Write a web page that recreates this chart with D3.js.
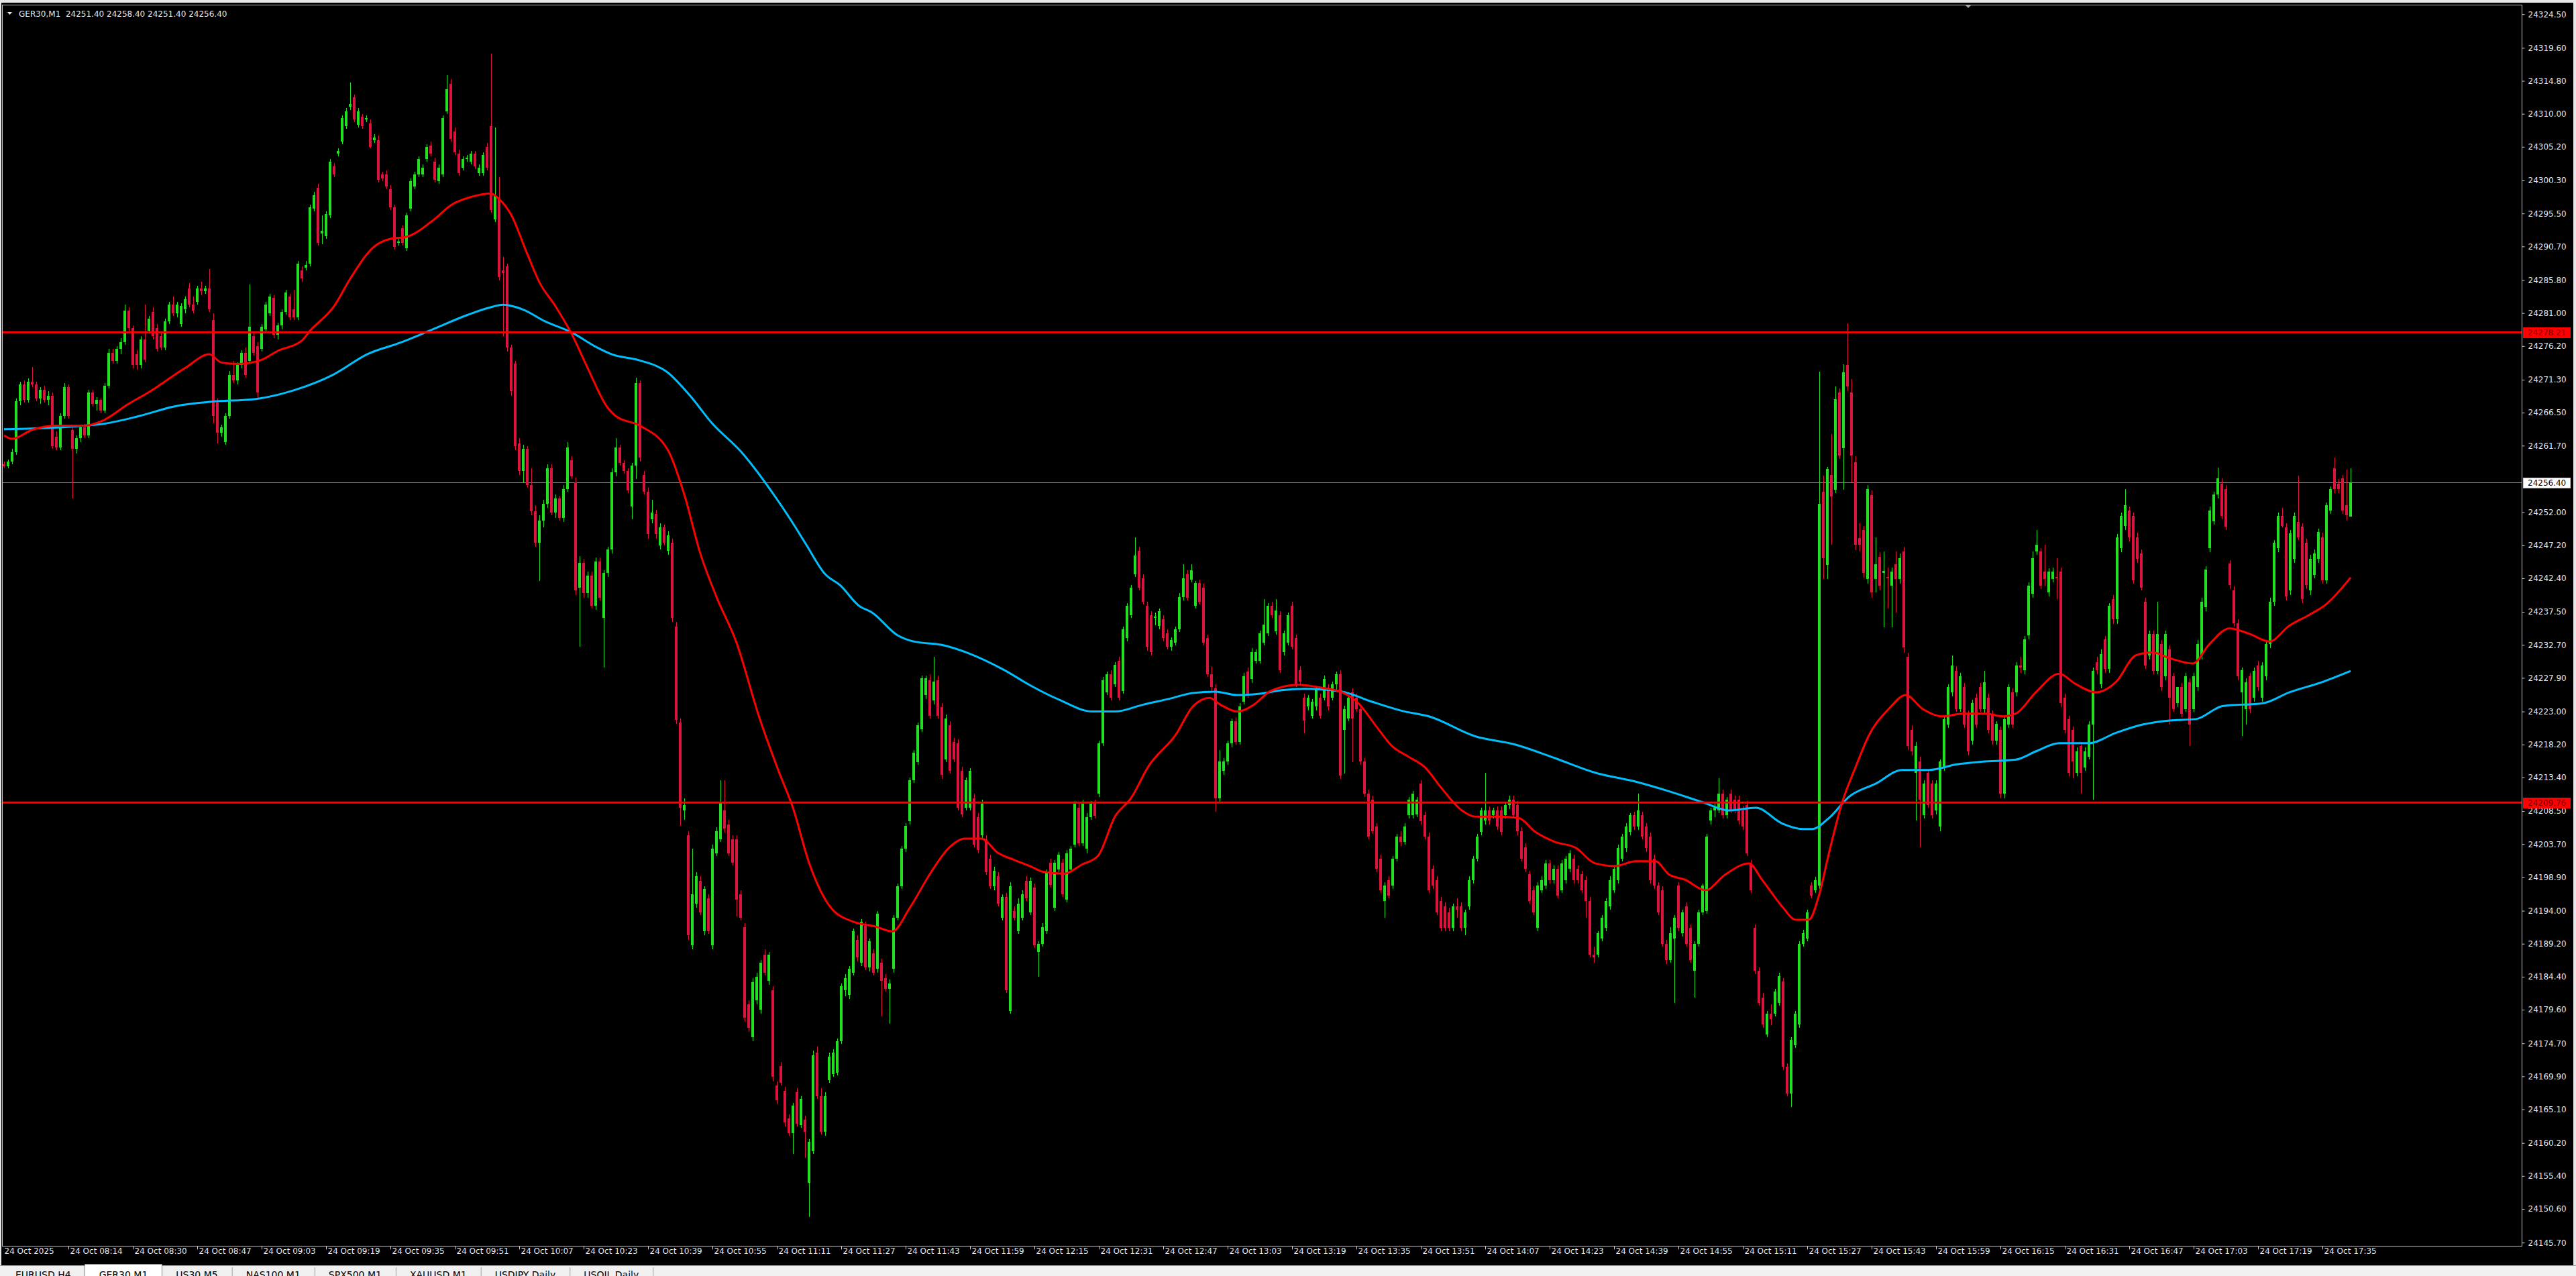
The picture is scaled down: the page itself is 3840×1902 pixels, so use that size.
<!DOCTYPE html>
<html><head><meta charset="utf-8">
<script src="https://cdn.jsdelivr.net/npm/d3@7"></script>
<style>
html,body{margin:0;padding:0;background:#000;overflow:hidden}
svg{display:block}
</style></head><body>
<svg id="c" width="3840" height="1902"></svg>
<script>
const headerText = "GER30,M1  24251.40 24258.40 24251.40 24256.40";
const priceTicks = [24324.50,24319.60,24314.80,24310.00,24305.20,24300.30,24295.50,24290.70,24285.80,24281.00,24276.20,24271.30,24266.50,24261.70,24252.00,24247.20,24242.40,24237.50,24232.70,24227.90,24223.00,24218.20,24213.40,24208.50,24203.70,24198.90,24194.00,24189.20,24184.40,24179.60,24174.70,24169.90,24165.10,24160.20,24155.40,24150.60,24145.70];
const timeTickIdx = [0.67,17,33,49,65,81,97,113,129,145,161,177,193,209,225,241,257,273,289,305,321,337,353,369,385,401,417,433,449,465,481,497,513,529,545,561,577];
const timeLabels = ["24 Oct 2025","24 Oct 08:14","24 Oct 08:30","24 Oct 08:47","24 Oct 09:03","24 Oct 09:19","24 Oct 09:35","24 Oct 09:51","24 Oct 10:07","24 Oct 10:23","24 Oct 10:39","24 Oct 10:55","24 Oct 11:11","24 Oct 11:27","24 Oct 11:43","24 Oct 11:59","24 Oct 12:15","24 Oct 12:31","24 Oct 12:47","24 Oct 13:03","24 Oct 13:19","24 Oct 13:35","24 Oct 13:51","24 Oct 14:07","24 Oct 14:23","24 Oct 14:39","24 Oct 14:55","24 Oct 15:11","24 Oct 15:27","24 Oct 15:43","24 Oct 15:59","24 Oct 16:15","24 Oct 16:31","24 Oct 16:47","24 Oct 17:03","24 Oct 17:19","24 Oct 17:35"];
// one-minute candles [open, high, low, close], bar 1 .. bar 584
const candles = [
[24259.0,24259.4,24258.5,24258.7],[24258.7,24259.7,24258.4,24259.4],[24259.4,24261.2,24259.0,24260.8],[24260.8,24268.6,24260.4,24268.2],[24268.2,24271.0,24267.6,24270.6],[24270.6,24271.2,24268.0,24268.4],[24268.4,24271.5,24268.0,24271.0],[24271.0,24273.2,24270.2,24270.6],[24270.6,24271.0,24268.2,24268.6],[24268.6,24270.2,24267.8,24269.8],
[24269.8,24270.4,24268.0,24268.4],[24268.4,24269.6,24267.6,24269.0],[24269.0,24269.4,24261.2,24261.6],[24263.0,24263.8,24261.0,24261.4],[24261.4,24266.4,24261.0,24266.0],[24266.0,24270.8,24265.6,24270.2],[24270.2,24270.6,24265.6,24266.0],[24264.0,24264.6,24254.0,24261.2],[24261.2,24263.2,24260.6,24262.8],[24262.8,24264.8,24262.2,24264.4],
[24264.4,24264.9,24262.8,24263.2],[24263.2,24269.8,24262.8,24269.4],[24269.4,24269.8,24267.4,24267.8],[24267.8,24268.8,24266.8,24268.4],[24268.4,24268.6,24266.4,24266.8],[24266.8,24270.8,24266.4,24270.4],[24270.4,24275.8,24270.0,24275.2],[24275.2,24275.8,24273.6,24274.0],[24274.0,24276.2,24273.6,24275.8],[24275.8,24277.4,24275.0,24276.8],
[24276.8,24282.2,24276.4,24281.4],[24281.4,24281.8,24278.4,24278.8],[24278.8,24279.2,24273.0,24273.4],[24275.0,24275.6,24272.8,24273.4],[24273.4,24277.6,24273.0,24277.2],[24277.2,24282.2,24273.8,24274.2],[24278.4,24280.6,24278.0,24280.2],[24281.2,24281.8,24277.2,24277.6],[24278.8,24279.4,24275.4,24275.8],[24277.6,24278.2,24275.6,24276.0],
[24276.0,24280.2,24275.6,24279.8],[24279.8,24282.6,24279.4,24282.2],[24282.2,24283.4,24280.6,24281.0],[24281.0,24282.6,24280.4,24282.2],[24279.4,24282.4,24279.0,24282.0],[24281.6,24283.4,24281.0,24283.0],[24284.6,24285.4,24281.8,24282.2],[24282.2,24283.4,24281.0,24281.4],[24282.6,24285.0,24282.2,24284.6],[24284.6,24285.6,24283.6,24284.2],
[24284.2,24285.0,24283.8,24284.6],[24284.6,24287.4,24281.2,24281.6],[24280.0,24281.0,24265.0,24266.0],[24268.0,24268.6,24262.0,24263.6],[24263.6,24264.8,24263.0,24264.4],[24262.2,24266.4,24261.8,24266.0],[24266.0,24272.6,24265.6,24272.0],[24272.0,24274.0,24270.8,24271.2],[24271.2,24273.8,24270.6,24273.4],[24273.4,24275.6,24273.0,24275.2],
[24275.2,24276.0,24271.6,24272.0],[24274.0,24285.2,24273.6,24279.0],[24277.6,24278.2,24274.8,24275.2],[24276.2,24276.8,24268.6,24269.4],[24275.8,24279.4,24275.4,24279.0],[24278.6,24282.6,24278.2,24282.2],[24281.0,24283.8,24280.6,24283.4],[24283.2,24283.6,24277.4,24277.8],[24277.8,24279.6,24277.2,24279.2],[24279.2,24281.6,24278.6,24281.2],
[24281.2,24284.4,24280.8,24284.0],[24283.4,24283.8,24280.0,24280.4],[24281.6,24284.4,24280.0,24280.4],[24280.4,24288.6,24280.0,24288.2],[24287.2,24287.8,24285.6,24286.0],[24287.6,24288.6,24287.2,24288.0],[24288.2,24296.8,24287.8,24296.4],[24296.2,24298.6,24295.8,24298.2],[24299.2,24299.8,24290.8,24291.2],[24292.6,24295.2,24291.0,24293.0],
[24292.2,24295.8,24291.8,24295.4],[24295.2,24303.4,24294.8,24303.0],[24302.4,24302.8,24300.8,24301.2],[24304.2,24305.0,24303.8,24304.6],[24306.0,24309.8,24305.6,24309.4],[24308.2,24310.8,24307.8,24310.4],[24311.0,24314.6,24310.6,24311.4],[24312.4,24312.8,24308.8,24309.2],[24308.4,24310.8,24308.0,24310.4],[24309.6,24310.0,24307.8,24308.2],
[24309.2,24309.8,24308.8,24309.4],[24308.6,24309.2,24305.0,24305.2],[24306.2,24307.0,24305.8,24306.6],[24306.2,24306.8,24300.0,24300.4],[24301.2,24301.6,24300.2,24300.6],[24301.2,24301.8,24299.0,24299.4],[24299.0,24299.6,24296.0,24296.4],[24296.4,24296.8,24290.2,24290.6],[24291.2,24292.0,24290.8,24291.4],[24293.4,24293.8,24290.8,24291.2],
[24290.4,24295.6,24290.0,24295.2],[24296.2,24300.6,24295.8,24300.2],[24299.4,24301.6,24299.0,24301.2],[24301.2,24303.8,24300.8,24303.4],[24301.2,24302.6,24300.8,24302.2],[24303.4,24305.6,24303.0,24305.2],[24305.4,24306.0,24303.8,24304.2],[24303.0,24303.6,24300.0,24300.4],[24300.2,24302.6,24299.8,24302.2],[24301.2,24309.8,24300.8,24309.4],
[24310.4,24315.6,24310.0,24313.6],[24314.4,24315.0,24306.0,24306.4],[24307.4,24308.0,24304.0,24304.4],[24304.2,24304.8,24301.0,24301.4],[24302.2,24303.8,24301.8,24303.4],[24303.4,24304.0,24303.0,24303.6],[24303.0,24304.6,24302.6,24304.2],[24304.2,24304.6,24302.0,24302.4],[24301.4,24302.6,24301.0,24302.2],[24301.4,24304.4,24301.0,24304.0],
[24305.2,24305.8,24301.8,24302.2],[24308.2,24318.8,24295.6,24296.0],[24294.6,24308.0,24294.2,24298.2],[24297.6,24300.8,24285.8,24286.2],[24287.2,24289.2,24277.6,24286.8],[24287.8,24288.2,24275.4,24276.0],[24276.0,24276.4,24269.0,24269.6],[24273.6,24274.0,24261.0,24261.6],[24262.0,24262.8,24257.4,24258.0],[24258.0,24261.8,24256.4,24261.2],
[24261.2,24261.6,24255.6,24256.0],[24256.0,24258.4,24251.6,24252.2],[24252.2,24253.0,24247.0,24247.6],[24247.6,24251.6,24242.0,24250.8],[24250.8,24253.8,24249.8,24253.2],[24253.2,24259.0,24252.6,24258.4],[24258.4,24259.0,24251.6,24252.0],[24252.0,24254.6,24251.2,24254.0],[24254.0,24254.4,24250.8,24251.2],[24251.2,24256.0,24250.6,24255.4],
[24255.4,24262.2,24255.0,24261.4],[24259.6,24260.2,24256.8,24257.2],[24256.4,24257.0,24240.0,24240.6],[24241.0,24245.6,24232.4,24244.6],[24244.6,24245.2,24239.6,24240.2],[24240.2,24243.4,24239.6,24242.8],[24242.8,24243.4,24238.0,24238.4],[24238.4,24245.4,24237.8,24244.8],[24244.8,24245.4,24239.2,24239.6],[24236.6,24243.6,24229.4,24243.2],
[24243.2,24247.0,24242.6,24246.6],[24246.6,24258.4,24246.0,24257.8],[24257.8,24262.8,24257.2,24261.4],[24261.4,24261.8,24258.8,24259.2],[24259.2,24259.6,24257.6,24258.0],[24258.0,24258.4,24254.8,24255.2],[24252.8,24259.2,24251.0,24258.8],[24258.8,24271.6,24256.8,24270.8],[24270.8,24271.2,24259.4,24260.0],[24257.4,24258.0,24254.6,24255.0],
[24255.0,24255.6,24248.2,24248.8],[24251.0,24253.8,24250.4,24252.0],[24251.8,24252.4,24248.2,24248.8],[24247.2,24250.4,24246.6,24249.8],[24249.8,24250.2,24247.2,24247.6],[24246.4,24249.2,24245.8,24248.6],[24247.6,24248.2,24236.0,24236.6],[24235.4,24236.0,24221.2,24221.8],[24221.4,24222.0,24206.4,24209.0],[24208.6,24210.4,24207.2,24209.4],
[24205.0,24205.6,24189.8,24190.4],[24189.0,24203.0,24188.4,24196.4],[24195.0,24199.6,24194.4,24199.0],[24198.4,24199.0,24193.4,24193.8],[24191.0,24197.6,24190.4,24197.2],[24195.8,24196.4,24190.6,24191.0],[24189.0,24203.6,24188.4,24203.0],[24202.4,24206.2,24202.0,24205.6],[24204.4,24213.0,24204.0,24209.8],[24208.6,24213.0,24205.4,24206.0],
[24206.6,24207.2,24202.0,24202.4],[24204.4,24205.0,24200.6,24201.0],[24204.4,24205.0,24193.2,24195.6],[24196.4,24197.0,24192.6,24193.0],[24191.6,24192.2,24177.8,24178.4],[24180.4,24181.0,24176.4,24177.0],[24175.6,24184.2,24175.0,24183.6],[24181.0,24185.0,24180.4,24184.4],[24179.6,24186.8,24179.0,24186.4],[24187.6,24188.4,24184.6,24185.0],
[24183.8,24188.0,24183.2,24187.6],[24182.4,24183.0,24169.2,24169.8],[24168.6,24169.2,24165.8,24166.4],[24171.4,24172.0,24168.6,24169.0],[24167.8,24168.4,24162.6,24163.2],[24163.8,24164.4,24161.2,24161.6],[24161.6,24166.0,24158.6,24165.6],[24167.6,24168.2,24162.6,24163.0],[24162.8,24167.0,24162.4,24166.6],[24163.6,24164.2,24158.0,24161.8],
[24154.4,24160.8,24149.4,24160.4],[24159.0,24173.6,24158.6,24173.0],[24173.4,24174.2,24166.6,24167.0],[24167.0,24168.2,24161.4,24161.8],[24161.8,24167.6,24161.2,24167.0],[24169.4,24173.4,24169.0,24172.8],[24170.2,24173.8,24169.8,24173.4],[24170.4,24175.4,24170.0,24175.0],[24175.0,24183.4,24174.6,24183.0],[24182.4,24184.8,24181.6,24184.2],
[24181.8,24186.0,24181.2,24185.6],[24185.0,24191.4,24184.6,24191.0],[24189.8,24190.4,24186.6,24187.2],[24186.4,24192.8,24186.0,24192.4],[24191.8,24192.4,24185.4,24185.8],[24185.8,24190.0,24185.2,24189.6],[24187.8,24188.4,24184.6,24185.0],[24185.6,24194.0,24185.0,24193.6],[24186.4,24187.0,24178.6,24183.8],[24184.2,24184.8,24182.2,24182.6],
[24182.6,24184.0,24177.6,24183.4],[24185.6,24193.4,24185.0,24193.0],[24193.0,24198.0,24192.6,24197.6],[24197.6,24203.4,24197.2,24203.0],[24203.0,24206.8,24202.6,24206.4],[24207.0,24213.4,24206.6,24213.0],[24213.0,24217.4,24212.6,24217.0],[24215.6,24221.4,24215.2,24221.0],[24220.4,24228.2,24220.0,24227.8],[24225.4,24228.2,24224.8,24227.8],
[24227.6,24228.4,24222.0,24222.4],[24224.6,24231.0,24224.0,24227.4],[24227.6,24228.2,24222.0,24222.4],[24223.6,24224.2,24213.2,24213.8],[24216.0,24222.6,24215.6,24222.0],[24221.0,24221.6,24214.0,24214.4],[24218.6,24219.2,24215.6,24216.0],[24218.4,24219.0,24208.6,24209.0],[24214.4,24215.0,24207.6,24208.0],[24209.0,24213.4,24208.6,24213.0],
[24209.0,24214.8,24208.6,24214.4],[24210.4,24211.0,24203.2,24203.6],[24207.6,24208.2,24202.4,24202.8],[24205.0,24210.2,24204.6,24209.6],[24204.4,24205.0,24199.2,24199.6],[24201.6,24202.2,24197.2,24197.6],[24197.6,24200.4,24197.0,24199.8],[24199.0,24199.6,24194.6,24195.0],[24193.0,24196.4,24192.6,24196.0],[24196.0,24196.6,24182.0,24182.4],
[24179.4,24198.2,24179.0,24197.6],[24194.0,24194.6,24192.6,24193.0],[24191.0,24195.8,24190.6,24195.0],[24193.0,24197.0,24192.6,24196.4],[24198.4,24199.0,24195.4,24195.8],[24193.8,24198.8,24193.4,24198.4],[24197.4,24198.0,24188.6,24189.0],[24188.0,24189.6,24184.4,24189.2],[24189.2,24192.2,24188.8,24191.6],[24191.0,24200.0,24190.6,24199.6],
[24201.0,24201.6,24197.4,24197.8],[24194.4,24201.4,24194.0,24201.0],[24200.0,24202.6,24199.6,24202.2],[24201.0,24201.6,24196.0,24196.4],[24195.6,24202.8,24195.2,24202.4],[24200.0,24203.4,24199.6,24203.0],[24203.6,24210.0,24203.2,24209.6],[24209.0,24209.6,24203.4,24203.8],[24203.8,24210.2,24203.4,24209.6],[24203.0,24208.2,24202.4,24207.6],
[24207.6,24210.0,24207.2,24209.6],[24209.6,24210.2,24207.4,24207.8],[24211.0,24218.8,24210.6,24218.4],[24218.4,24228.0,24218.0,24227.6],[24225.8,24228.8,24225.4,24228.4],[24228.4,24229.0,24224.6,24225.0],[24227.0,24230.2,24226.6,24229.8],[24230.4,24231.0,24224.6,24225.0],[24226.0,24235.4,24225.6,24235.0],[24233.7,24238.8,24233.2,24238.4],
[24237.0,24241.4,24236.6,24241.0],[24243.0,24248.4,24242.6,24245.7],[24246.4,24247.0,24240.6,24241.0],[24242.4,24243.0,24238.6,24239.0],[24238.4,24239.0,24231.8,24232.4],[24237.0,24237.6,24231.2,24231.7],[24236.6,24237.4,24235.6,24236.8],[24235.5,24238.0,24235.0,24237.6],[24236.4,24237.0,24233.2,24233.7],[24234.4,24235.0,24232.0,24232.4],
[24232.4,24233.8,24231.8,24233.4],[24233.0,24235.4,24232.6,24235.0],[24235.0,24240.2,24234.6,24239.7],[24239.7,24244.4,24239.2,24242.4],[24243.0,24243.6,24239.2,24239.6],[24242.2,24244.4,24241.8,24243.6],[24238.4,24242.0,24238.0,24241.7],[24241.7,24242.2,24238.6,24239.0],[24241.0,24241.6,24232.6,24233.0],[24233.7,24234.2,24228.0,24228.4],
[24228.4,24229.6,24226.0,24226.6],[24226.4,24227.0,24208.4,24210.4],[24210.4,24217.4,24209.8,24215.7],[24214.4,24216.2,24213.8,24215.7],[24215.7,24218.8,24215.2,24218.4],[24218.4,24222.0,24217.8,24221.6],[24221.6,24222.2,24218.2,24218.6],[24218.6,24224.2,24218.2,24223.7],[24224.4,24228.6,24224.0,24228.1],[24228.8,24229.4,24225.0,24225.4],
[24227.7,24232.2,24227.2,24231.7],[24230.4,24232.0,24230.0,24231.7],[24230.4,24234.8,24230.0,24234.4],[24233.0,24239.4,24232.6,24235.7],[24234.4,24238.8,24234.0,24238.4],[24238.4,24239.0,24236.6,24237.0],[24234.7,24239.4,24234.2,24237.7],[24237.0,24237.6,24228.6,24229.0],[24231.7,24234.8,24231.2,24234.4],[24233.0,24237.4,24232.6,24237.0],
[24238.4,24239.0,24232.0,24232.4],[24233.7,24234.2,24226.6,24227.0],[24229.0,24229.6,24227.0,24227.4],[24225.0,24225.6,24219.8,24221.7],[24223.7,24225.4,24223.2,24225.0],[24222.4,24224.8,24222.0,24224.4],[24223.7,24226.6,24223.2,24226.2],[24225.0,24225.6,24222.0,24222.4],[24225.0,24228.2,24224.6,24227.7],[24226.4,24227.0,24223.2,24223.7],
[24225.0,24227.4,24224.6,24227.0],[24227.0,24228.8,24226.0,24228.4],[24228.4,24229.0,24213.2,24213.7],[24220.3,24223.8,24214.0,24223.4],[24222.0,24225.4,24221.6,24225.0],[24225.8,24226.4,24215.6,24222.0],[24225.0,24225.6,24223.0,24223.4],[24223.4,24223.8,24215.2,24215.7],[24215.7,24216.2,24210.6,24211.0],[24211.0,24211.6,24204.4,24204.8],
[24210.2,24210.8,24205.2,24205.6],[24206.3,24206.8,24199.6,24200.1],[24201.6,24202.2,24196.6,24197.0],[24195.4,24198.2,24193.0,24197.7],[24198.5,24199.0,24195.8,24196.2],[24197.7,24202.0,24197.2,24201.6],[24201.6,24205.2,24201.2,24204.8],[24204.8,24205.6,24203.4,24204.0],[24204.0,24206.8,24203.6,24206.3],[24207.9,24210.6,24207.4,24210.2],
[24207.9,24211.4,24207.4,24211.0],[24208.0,24210.6,24207.6,24210.2],[24212.5,24213.0,24206.6,24207.0],[24207.9,24208.4,24204.4,24204.8],[24204.8,24205.4,24196.6,24197.0],[24200.1,24200.6,24197.2,24197.7],[24198.5,24199.0,24193.4,24193.8],[24195.4,24196.0,24191.0,24191.5],[24194.6,24195.2,24191.0,24191.5],[24193.8,24194.4,24191.0,24191.5],
[24191.5,24195.0,24191.0,24194.6],[24194.6,24195.8,24193.0,24194.2],[24194.6,24195.2,24191.0,24191.5],[24191.5,24194.2,24190.4,24193.8],[24194.6,24199.0,24194.2,24198.5],[24198.5,24202.0,24198.0,24201.6],[24201.6,24205.2,24201.2,24204.8],[24205.5,24209.0,24205.0,24208.6],[24207.1,24214.1,24206.6,24208.6],[24208.6,24209.2,24206.6,24207.1],
[24207.9,24209.0,24207.4,24208.6],[24208.6,24209.2,24205.8,24206.3],[24208.6,24209.2,24205.0,24205.5],[24207.9,24209.8,24207.4,24209.4],[24209.4,24210.8,24208.8,24210.2],[24210.2,24210.8,24207.4,24207.9],[24209.4,24210.0,24205.0,24205.6],[24205.6,24206.2,24201.2,24201.6],[24203.2,24203.8,24199.6,24200.1],[24199.3,24199.8,24195.0,24195.4],
[24197.0,24197.6,24193.4,24193.8],[24191.5,24198.2,24191.0,24197.7],[24197.0,24199.0,24196.6,24198.5],[24197.7,24201.4,24197.2,24200.9],[24200.9,24201.4,24198.0,24198.5],[24198.5,24200.6,24198.0,24200.1],[24200.1,24200.6,24195.8,24196.2],[24197.0,24201.4,24196.6,24200.9],[24198.5,24202.0,24198.0,24201.6],[24200.1,24202.8,24199.6,24202.4],
[24201.6,24202.2,24198.0,24198.5],[24200.1,24200.6,24198.0,24198.5],[24199.3,24199.8,24196.6,24197.0],[24198.5,24199.0,24193.0,24195.4],[24195.4,24196.0,24187.2,24187.6],[24187.6,24188.8,24186.4,24187.2],[24187.6,24191.0,24187.2,24190.7],[24190.0,24193.4,24189.6,24193.0],[24191.5,24195.8,24191.0,24195.4],[24194.6,24199.0,24194.2,24198.5],
[24197.0,24200.6,24196.6,24200.1],[24198.5,24203.6,24198.0,24203.1],[24201.6,24205.2,24201.2,24204.8],[24203.1,24206.8,24202.6,24206.3],[24205.5,24208.2,24205.0,24207.9],[24207.9,24208.4,24205.8,24206.3],[24206.3,24211.0,24205.8,24208.6],[24207.9,24208.4,24204.4,24204.8],[24206.3,24206.8,24202.6,24203.1],[24204.8,24205.4,24198.0,24198.5],
[24201.6,24202.2,24197.2,24197.7],[24197.7,24198.2,24193.4,24193.8],[24197.0,24197.6,24188.8,24189.2],[24189.2,24189.8,24186.2,24186.8],[24186.8,24191.6,24186.4,24190.7],[24190.0,24193.4,24180.6,24193.0],[24197.7,24198.2,24191.0,24191.5],[24190.7,24194.2,24190.2,24193.8],[24194.6,24195.2,24188.8,24189.2],[24191.5,24192.0,24186.4,24186.8],
[24185.3,24189.6,24181.4,24189.2],[24189.2,24194.2,24188.8,24193.8],[24193.8,24198.0,24193.4,24197.7],[24194.0,24205.2,24193.6,24204.8],[24207.1,24209.0,24206.6,24208.6],[24208.6,24209.6,24207.6,24209.0],[24208.6,24213.3,24208.2,24211.0],[24211.0,24211.6,24207.4,24207.9],[24207.9,24210.6,24207.4,24210.2],[24211.0,24211.6,24208.2,24208.6],
[24210.2,24210.8,24208.2,24208.6],[24210.2,24210.8,24206.6,24207.1],[24208.6,24209.2,24205.8,24206.3],[24209.4,24210.0,24202.0,24202.4],[24200.9,24201.4,24196.6,24197.0],[24191.5,24192.0,24184.8,24185.3],[24185.3,24185.8,24180.2,24180.6],[24181.4,24182.0,24177.0,24177.5],[24176.0,24179.4,24175.6,24179.0],[24179.0,24180.4,24177.4,24178.2],
[24179.0,24182.6,24178.6,24182.2],[24180.6,24185.0,24180.2,24184.5],[24183.7,24184.2,24170.8,24171.3],[24171.3,24171.8,24167.0,24167.4],[24167.4,24175.6,24165.4,24175.2],[24174.4,24179.4,24174.0,24179.0],[24177.5,24189.6,24177.0,24189.2],[24189.2,24191.2,24188.8,24190.7],[24190.0,24194.2,24189.6,24193.8],[24197.7,24198.2,24195.8,24196.2],
[24197.0,24198.9,24196.6,24198.5],[24197.7,24272.5,24197.2,24253.2],[24255.0,24257.3,24242.3,24245.3],[24244.3,24258.6,24242.3,24258.3],[24257.4,24263.4,24247.3,24254.3],[24255.3,24270.3,24254.8,24268.5],[24269.4,24270.0,24259.8,24260.3],[24261.3,24273.5,24255.3,24272.4],[24273.4,24279.5,24269.6,24270.3],[24269.4,24271.4,24256.4,24260.3],
[24259.3,24260.2,24246.5,24247.3],[24248.3,24250.4,24246.3,24247.3],[24249.4,24250.0,24242.5,24243.2],[24242.3,24256.0,24241.6,24255.4],[24254.5,24255.2,24239.6,24240.3],[24242.3,24248.4,24240.3,24244.4],[24245.5,24246.2,24240.6,24241.3],[24243.2,24246.3,24235.3,24243.5],[24242.6,24244.0,24238.0,24242.4],[24241.3,24244.0,24235.3,24243.4],
[24244.4,24246.3,24237.4,24242.3],[24242.3,24246.0,24241.6,24245.3],[24246.3,24247.0,24231.6,24232.3],[24231.0,24231.6,24217.4,24218.0],[24220.3,24221.0,24216.6,24217.2],[24214.1,24218.6,24207.1,24218.0],[24215.7,24216.4,24203.2,24210.2],[24207.9,24213.0,24207.4,24212.5],[24214.1,24214.6,24209.0,24209.4],[24212.5,24213.0,24207.4,24207.9],
[24208.6,24213.0,24208.0,24212.5],[24206.3,24216.0,24205.6,24215.7],[24214.9,24222.4,24214.4,24221.9],[24221.1,24227.0,24220.6,24226.6],[24225.8,24231.2,24225.2,24229.7],[24228.9,24229.6,24223.0,24223.4],[24223.4,24228.6,24223.0,24228.1],[24226.6,24227.2,24220.6,24221.1],[24222.7,24223.2,24216.6,24217.2],[24218.8,24224.7,24218.2,24224.2],
[24225.0,24225.6,24220.6,24221.1],[24226.6,24227.2,24223.0,24223.4],[24223.4,24228.9,24222.8,24227.3],[24225.0,24225.6,24219.8,24220.3],[24222.7,24223.2,24218.2,24218.8],[24218.8,24221.6,24218.2,24221.2],[24220.3,24220.8,24210.4,24211.0],[24211.0,24222.4,24210.4,24221.9],[24221.1,24227.0,24220.6,24226.6],[24225.8,24226.4,24220.6,24221.1],
[24225.8,24230.2,24225.2,24229.7],[24229.7,24231.0,24228.6,24229.4],[24229.0,24234.0,24228.4,24233.5],[24234.1,24241.8,24233.5,24241.3],[24240.1,24246.3,24239.6,24245.3],[24246.3,24249.4,24245.8,24247.3],[24246.3,24246.8,24240.8,24241.3],[24243.4,24247.3,24241.3,24242.3],[24240.3,24243.9,24239.8,24243.4],[24242.3,24244.0,24241.8,24243.4],
[24242.6,24245.3,24239.4,24242.4],[24243.4,24244.0,24223.6,24224.2],[24225.0,24225.6,24219.8,24220.3],[24221.9,24222.4,24213.6,24214.1],[24220.3,24220.8,24213.3,24215.7],[24214.1,24217.8,24213.6,24217.2],[24218.0,24218.6,24211.0,24214.1],[24214.9,24217.8,24214.4,24217.2],[24216.4,24221.6,24216.0,24221.1],[24221.1,24229.4,24210.2,24228.9],
[24230.2,24231.0,24228.4,24229.0],[24227.0,24232.0,24226.4,24231.4],[24233.5,24234.0,24228.6,24229.2],[24229.2,24238.8,24228.6,24238.4],[24239.4,24240.0,24235.8,24236.4],[24236.4,24248.8,24235.8,24248.4],[24246.8,24252.0,24246.2,24251.5],[24250.0,24255.4,24249.4,24253.0],[24252.3,24252.8,24247.8,24248.4],[24251.5,24252.0,24241.6,24242.1],
[24248.4,24249.0,24244.6,24245.2],[24246.0,24246.6,24240.6,24241.0],[24239.0,24239.6,24229.2,24229.7],[24231.2,24234.8,24230.6,24234.3],[24234.3,24234.8,24228.4,24228.9],[24228.9,24239.0,24228.4,24234.3],[24232.8,24233.4,24226.0,24226.6],[24228.1,24234.8,24227.6,24234.3],[24232.0,24232.6,24221.1,24225.0],[24228.1,24228.6,24223.0,24223.4],
[24224.2,24226.6,24223.6,24226.6],[24226.6,24227.2,24222.2,24222.7],[24223.4,24228.6,24223.0,24228.1],[24227.3,24227.8,24218.0,24221.1],[24223.4,24228.6,24223.0,24228.1],[24226.6,24233.4,24226.0,24232.8],[24231.2,24239.6,24230.6,24239.0],[24238.2,24244.2,24237.6,24243.7],[24246.8,24252.8,24246.2,24252.3],[24250.7,24255.0,24250.2,24254.6],
[24254.6,24258.5,24254.0,24256.9],[24256.2,24256.9,24251.0,24251.5],[24255.4,24256.0,24249.4,24249.9],[24244.5,24245.0,24240.8,24241.4],[24240.6,24241.2,24235.4,24235.9],[24235.9,24236.4,24227.6,24228.1],[24225.8,24229.4,24219.4,24229.0],[24223.4,24227.8,24221.1,24227.3],[24228.1,24228.6,24222.8,24223.4],[24225.0,24229.4,24224.4,24228.9],
[24229.7,24230.4,24226.0,24226.6],[24225.0,24230.2,24224.4,24229.7],[24228.1,24233.4,24227.6,24232.8],[24232.8,24239.6,24232.2,24239.0],[24239.0,24248.0,24238.4,24247.6],[24246.8,24252.0,24246.2,24251.5],[24251.5,24252.6,24249.8,24250.0],[24249.8,24250.4,24239.2,24239.8],[24240.6,24249.4,24240.0,24248.9],[24245.2,24252.0,24244.6,24251.5],
[24250.6,24257.3,24248.0,24248.4],[24249.9,24250.4,24238.8,24239.4],[24247.6,24248.2,24240.8,24241.4],[24240.6,24245.8,24240.0,24245.2],[24242.9,24246.6,24242.4,24246.0],[24245.2,24249.6,24244.6,24249.1],[24248.4,24249.0,24241.6,24242.1],[24242.1,24253.4,24241.6,24253.0],[24252.3,24255.8,24251.8,24255.4],[24258.4,24260.0,24254.8,24255.4],
[24256.2,24256.8,24254.8,24255.4],[24256.9,24257.4,24251.8,24252.3],[24253.0,24258.2,24250.8,24251.6],[24251.4,24258.4,24251.4,24256.4]
];
// moving averages: [bar, price]
const redMA = [[1,24263.2],[3,24262.7],[8,24264.0],[14,24264.6],[21,24264.6],[25,24265.2],[32,24267.8],[37,24269.5],[46,24273.0],[52,24275.0],[55,24273.8],[59,24273.6],[65,24274.2],[69,24275.5],[75,24277.0],[77,24278.4],[83,24282.0],[87,24286.0],[93,24290.7],[97,24291.8],[101,24292.1],[108,24294.7],[112,24296.7],[117,24297.9],[122,24298.4],[124,24297.6],[127,24295.3],[131,24289.6],[134,24285.5],[138,24282.0],[142,24278.0],[146,24273.0],[151,24267.2],[153,24266.0],[159,24264.6],[166,24261.0],[170,24254.6],[174,24246.0],[178,24239.7],[183,24233.0],[188.5,24222.4],[193.4,24214.4],[197,24209.0],[201,24201.0],[206.5,24194.4],[212,24192.4],[217.5,24191.7],[221.7,24191.0],[226,24194.4],[231.4,24199.7],[235.5,24203.0],[239.7,24204.5],[243.8,24204.5],[248,24202.4],[252,24201.4],[256.3,24200.4],[259,24199.7],[264.5,24199.4],[268.7,24200.7],[272.8,24202.0],[277,24207.7],[281,24210.4],[285.3,24215.0],[292.2,24219.7],[296.3,24223.7],[300.5,24225.0],[303.2,24224.0],[307.4,24223.0],[311.5,24224.0],[315.7,24226.0],[322.6,24226.9],[328,24226.5],[333.4,24225.8],[337.5,24224.2],[341.6,24221.1],[345.8,24218.0],[350,24216.4],[354,24214.9],[358.2,24211.8],[363.2,24208.6],[366.5,24207.7],[372,24207.7],[377.3,24207.5],[381.4,24205.5],[386.4,24204.0],[391.4,24203.2],[396.3,24200.9],[401.3,24200.5],[406.3,24201.2],[411.3,24201.2],[414.6,24199.3],[418.7,24198.5],[423.7,24197.0],[428.7,24199.3],[434.5,24200.9],[437.8,24198.5],[442.8,24194.6],[446.1,24192.7],[449.4,24192.7],[451.9,24196.2],[454.4,24202.4],[457.7,24209.8],[461,24214.9],[464.3,24219.5],[469.3,24223.4],[473.5,24225.4],[477.6,24223.4],[482.6,24222.3],[487.6,24222.7],[493.4,24222.7],[497.5,24222.3],[500.8,24222.7],[505.8,24225.8],[511.6,24228.5],[515.7,24227.0],[520.7,24225.8],[525.7,24227.3],[530.7,24231.2],[534.8,24231.6],[538.9,24230.8],[544.8,24230.0],[548.9,24232.8],[553.9,24235.1],[558.9,24234.3],[563.8,24233.2],[568.8,24235.5],[573.8,24237.1],[577.9,24238.6],[584,24242.5]];
const blueMA = [[1,24264.1],[8,24264.2],[18,24264.5],[26,24264.9],[34.5,24266.0],[44,24267.5],[52.5,24268.1],[63.6,24268.5],[73.2,24269.8],[83,24272.1],[91.2,24275.0],[99.5,24276.7],[107.8,24278.7],[116,24280.7],[121.6,24281.8],[125,24282.2],[130,24281.5],[135.4,24279.8],[142.3,24278.1],[148,24276.1],[152,24275.0],[159,24274.1],[165.8,24272.4],[171.4,24269.0],[177,24264.9],[184,24260.9],[193.5,24253.5],[197,24250.4],[200.4,24247.2],[205,24243.0],[208.7,24241.4],[213.4,24238.4],[216.7,24237.4],[223,24234.1],[227,24233.2],[234,24232.7],[241,24231.4],[249.3,24229.1],[256.3,24226.7],[263.2,24224.7],[271.4,24223.0],[277,24223.0],[284,24224.0],[290.8,24224.9],[296.3,24225.7],[302,24225.9],[307.4,24225.4],[313,24225.6],[318.4,24226.1],[324,24226.3],[333.4,24225.9],[340,24224.6],[348.3,24223.1],[355,24222.3],[366.5,24219.4],[376.4,24218.2],[386.4,24216.2],[396.3,24214.1],[406.3,24212.8],[414.6,24211.4],[423,24209.8],[429.5,24208.6],[436.2,24209.0],[442.8,24206.7],[447.8,24205.9],[450.2,24205.9],[454.4,24207.5],[459.4,24210.6],[466,24212.5],[472.6,24214.5],[479.3,24214.5],[486,24215.3],[492.5,24215.7],[500.8,24216.0],[505.8,24217.2],[511.6,24218.4],[519,24218.4],[525.7,24219.9],[532.3,24221.1],[539,24221.7],[545.6,24221.9],[552.2,24223.8],[562.2,24224.2],[568.8,24225.8],[577,24227.3],[584,24228.9]];
const levelLines = [24278.21, 24209.76];
const bidPrice = 24256.40;
const tabNames = ["EURUSD,H4","GER30,M1","US30,M5","NAS100,M1","SPX500,M1","XAUUSD,M1","USDJPY,Daily","USOIL,Daily"];
const activeTab = 1;

const W = 3840, H = 1902;
const plotL = 3, plotT = 7, plotR = 3759, plotB = 1857;
const FONT = "DejaVu Sans, Verdana, sans-serif";
const bull = "#21e021", bear = "#dc143c";

const x = d3.scaleLinear().domain([0, 640]).range([0, 3840]);
const y = d3.scaleLinear().domain([24145.7, 24324.5]).range([1852.2, 21.2]);

const svg = d3.select("#c");
svg.append("rect").attr("width", W).attr("height", H).attr("fill", "#000");
// window chrome
svg.append("rect").attr("x", 0).attr("y", 0).attr("width", W).attr("height", 4).attr("fill", "#e8e8e8");
svg.append("rect").attr("x", 0).attr("y", 0).attr("width", 2).attr("height", H).attr("fill", "#e8e8e8");
svg.append("rect").attr("x", 3836).attr("y", 0).attr("width", 4).attr("height", H).attr("fill", "#e8e8e8");

const defs = svg.append("defs");
defs.append("clipPath").attr("id", "plotclip").append("rect")
  .attr("x", plotL + 1).attr("y", plotT + 1).attr("width", plotR - plotL - 1).attr("height", plotB - plotT - 1);

const plot = svg.append("g").attr("clip-path", "url(#plotclip)");

// bid line
plot.append("line").attr("x1", plotL).attr("x2", plotR)
  .attr("y1", Math.round(y(bidPrice)) + 0.5).attr("y2", Math.round(y(bidPrice)) + 0.5)
  .attr("stroke", "#778899").attr("stroke-width", 1);

// candles
const cg = plot.append("g").attr("shape-rendering", "crispEdges");
cg.selectAll("rect.wick").data(candles).join("rect").attr("class", "wick")
  .attr("x", (d, i) => Math.round(x(i + 1)))
  .attr("y", d => Math.round(y(d[1])))
  .attr("width", 1)
  .attr("height", d => Math.max(1, Math.round(y(d[2])) - Math.round(y(d[1]))))
  .attr("fill", d => d[3] >= d[0] ? bull : bear);
cg.selectAll("rect.body").data(candles).join("rect").attr("class", "body")
  .attr("x", (d, i) => Math.round(x(i + 1)) - 2)
  .attr("y", d => Math.round(y(Math.max(d[0], d[3]))))
  .attr("width", 4)
  .attr("height", d => Math.max(1, Math.round(y(Math.min(d[0], d[3]))) - Math.round(y(Math.max(d[0], d[3])))))
  .attr("fill", d => d[3] >= d[0] ? bull : bear);

// moving averages
const line = d3.line().x(d => x(d[0])).y(d => y(d[1])).curve(d3.curveMonotoneX);
plot.append("path").datum(blueMA).attr("d", line).attr("fill", "none").attr("stroke", "#00bfff").attr("stroke-width", 3).attr("stroke-linejoin", "round");
plot.append("path").datum(redMA).attr("d", line).attr("fill", "none").attr("stroke", "#ff0000").attr("stroke-width", 3).attr("stroke-linejoin", "round");

// horizontal levels
plot.selectAll("line.lvl").data(levelLines).join("line").attr("class", "lvl")
  .attr("x1", plotL).attr("x2", plotR)
  .attr("y1", d => y(d)).attr("y2", d => y(d))
  .attr("stroke", "#ff0000").attr("stroke-width", 3);

// frame
svg.append("rect").attr("x", plotL + 0.5).attr("y", plotT + 0.5)
  .attr("width", plotR - plotL).attr("height", plotB - plotT)
  .attr("fill", "none").attr("stroke", "#c8c8c8").attr("stroke-width", 1);

// price axis
const yAxis = d3.axisRight(y).tickValues(priceTicks).tickFormat(d3.format(".2f")).tickSize(4).tickPadding(5);
svg.append("g").attr("transform", `translate(${plotR + 0.5},0)`).call(yAxis)
  .attr("font-family", FONT).attr("font-size", 12)
  .call(g => g.select(".domain").remove())
  .call(g => g.selectAll(".tick line").attr("stroke", "#c8c8c8"))
  .call(g => g.selectAll(".tick text").attr("fill", "#e6e6e6"));

// time axis
const xAxis = d3.axisBottom(x).tickValues(timeTickIdx).tickFormat((d, i) => timeLabels[i]).tickSize(5);
svg.append("g").attr("transform", `translate(0,${plotB + 0.5})`).call(xAxis)
  .attr("font-family", FONT).attr("font-size", 12)
  .call(g => g.select(".domain").remove())
  .call(g => g.selectAll(".tick line").attr("stroke", "#c8c8c8").attr("opacity", (d, i) => i === 0 ? 0 : 1))
  .call(g => g.selectAll(".tick text").attr("fill", "#e6e6e6").attr("text-anchor", "start").attr("x", 2).attr("y", 3).attr("dy", "0.71em"));

// price tags on the axis
function tag(price, fill, color, stroke) {
  const yy = Math.round(y(price));
  svg.append("rect").attr("x", plotR + 2).attr("y", yy - 7).attr("width", 70).attr("height", 15)
    .attr("fill", fill).attr("stroke", stroke).attr("stroke-width", 1).attr("shape-rendering", "crispEdges");
  svg.append("text").attr("x", plotR + 9).attr("y", yy + 4.5).attr("font-family", FONT).attr("font-size", 12)
    .attr("fill", color).text(d3.format(".2f")(price));
}
levelLines.forEach(p => tag(p, "#ff0000", "#7a0000", "#ff0000"));
tag(bidPrice, "#ffffff", "#000000", "#c8c8c8");

// header
svg.append("path").attr("d", "M11,18 L18,18 L14.5,22 Z").attr("fill", "#e6e6e6");
svg.append("text").attr("x", 28).attr("y", 25).attr("font-family", FONT).attr("font-size", 12)
  .attr("fill", "#e6e6e6").attr("xml:space", "preserve").style("white-space", "pre").text(headerText);
// chart shift marker
svg.append("path").attr("d", "M2930,8 L2938,8 L2934,12 Z").attr("fill", "#a0a0a0");

// tab bar
svg.append("rect").attr("x", 0).attr("y", 1886).attr("width", W).attr("height", 16).attr("fill", "#f0f0f0");
svg.append("line").attr("x1", 0).attr("x2", W).attr("y1", 1886.5).attr("y2", 1886.5).attr("stroke", "#a0a0a0");
let tx = 2;
tabNames.forEach((name, i) => {
  const g = svg.append("g");
  const t = g.append("text").attr("y", 1905).attr("font-family", FONT).attr("font-size", 14)
    .attr("fill", "#000").text(name);
  const w = t.node().getComputedTextLength() + 42;
  t.attr("x", tx + 21);
  if (i === activeTab) {
    g.insert("rect", "text").attr("x", tx).attr("y", 1884).attr("width", w).attr("height", 20)
      .attr("fill", "#ffffff").attr("stroke", "#808080").attr("shape-rendering", "crispEdges");
  } else {
    g.insert("line", "text").attr("x1", tx + w + 0.5).attr("x2", tx + w + 0.5).attr("y1", 1889).attr("y2", 1902)
      .attr("stroke", "#a0a0a0");
  }
  tx += w;
});
</script>
</body></html>
